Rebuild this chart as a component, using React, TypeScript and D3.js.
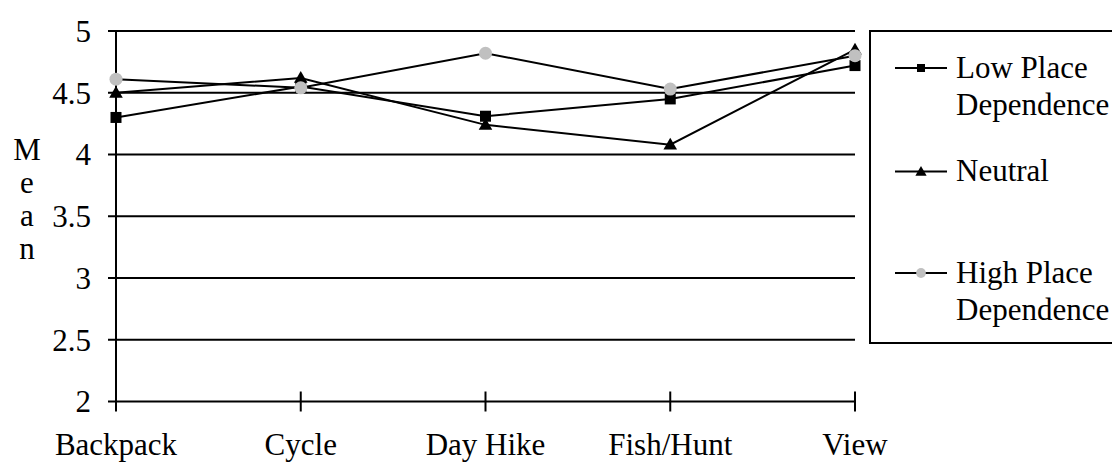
import React, { useEffect, useRef } from "react";
import * as d3 from "d3";

const categories = ["Backpack", "Cycle", "Day Hike", "Fish/Hunt", "View"];
const lowPlace = [4.3, 4.55, 4.31, 4.45, 4.72];
const neutral = [4.5, 4.62, 4.24, 4.08, 4.85];
const highPlace = [4.61, 4.54, 4.82, 4.53, 4.8];
const yTicks = [2, 2.5, 3, 3.5, 4, 4.5, 5];

const seriesList = [
  { name: ["Low Place", "Dependence"], values: lowPlace, marker: "square", color: "#000" },
  { name: ["Neutral"], values: neutral, marker: "triangle", color: "#000" },
  { name: ["High Place", "Dependence"], values: highPlace, marker: "circle", color: "#c0c0c0" },
];

const width = 1112;
const height = 462;

const App = () => {
  const svgRef = useRef(null);

  useEffect(() => {
    const svg = d3.select(svgRef.current);
    svg.selectAll("*").remove();
    svg.style("font-family", "Liberation Serif").style("font-size", "31px");

    const x = d3.scalePoint().domain(categories).range([116, 855]);
    const y = d3.scaleLinear().domain([2, 5]).range([401.5, 31]);

    // gridlines + y ticks
    svg.append("g")
      .selectAll("line")
      .data(yTicks)
      .join("line")
      .attr("x1", 108)
      .attr("x2", 855)
      .attr("y1", (d) => y(d))
      .attr("y2", (d) => y(d))
      .attr("stroke", "#000")
      .attr("stroke-width", 2);

    svg.append("g")
      .selectAll("text")
      .data(yTicks)
      .join("text")
      .attr("x", 91)
      .attr("y", (d) => y(d))
      .attr("dy", "0.35em")
      .attr("text-anchor", "end")
      .text((d) => d);

    // y axis line
    svg.append("line")
      .attr("x1", 116).attr("x2", 116)
      .attr("y1", y(5)).attr("y2", y(2) + 10)
      .attr("stroke", "#000").attr("stroke-width", 2);

    // x ticks
    svg.append("g")
      .selectAll("line")
      .data(categories.slice(1))
      .join("line")
      .attr("x1", (d) => x(d))
      .attr("x2", (d) => x(d))
      .attr("y1", y(2) - 10)
      .attr("y2", y(2) + 10)
      .attr("stroke", "#000")
      .attr("stroke-width", 2);

    svg.append("g")
      .selectAll("text")
      .data(categories)
      .join("text")
      .attr("x", (d) => x(d))
      .attr("y", 455)
      .attr("text-anchor", "middle")
      .text((d) => d);

    // y title, stacked letters
    svg.append("g")
      .selectAll("text")
      .data("Mean".split(""))
      .join("text")
      .attr("x", 27)
      .attr("y", (d, i) => 160 + i * 33)
      .attr("text-anchor", "middle")
      .text((d) => d);

    const markerPath = (type, big) => {
      if (type === "square") return d3.symbol(d3.symbolSquare, big ? 121 : 64)();
      if (type === "triangle") return d3.symbol(d3.symbolTriangle, big ? 80 : 55)();
      return d3.symbol(d3.symbolCircle, big ? 133 : 75)();
    };

    const line = d3.line()
      .x((d, i) => x(categories[i]))
      .y((d) => y(d));

    seriesList.forEach((s) => {
      svg.append("path")
        .datum(s.values)
        .attr("d", line)
        .attr("fill", "none")
        .attr("stroke", "#000")
        .attr("stroke-width", 2);
      svg.append("g")
        .selectAll("path")
        .data(s.values)
        .join("path")
        .attr("transform", (d, i) => `translate(${x(categories[i])},${y(d) + (s.marker === "triangle" ? 1 : 0)})`)
        .attr("d", markerPath(s.marker, true))
        .attr("fill", s.color);
    });

    // legend
    svg.append("rect")
      .attr("x", 870)
      .attr("y", 31)
      .attr("width", 300)
      .attr("height", 312)
      .attr("fill", "none")
      .attr("stroke", "#000")
      .attr("stroke-width", 2);

    const legendY = [68, 171.5, 273];
    seriesList.forEach((s, i) => {
      const g = svg.append("g").attr("transform", `translate(0,${legendY[i]})`);
      g.append("line")
        .attr("x1", 895).attr("x2", 947)
        .attr("y1", 0).attr("y2", 0)
        .attr("stroke", "#000").attr("stroke-width", 2);
      g.append("path")
        .attr("transform", `translate(921,${s.marker === "triangle" ? 1 : 0})`)
        .attr("d", markerPath(s.marker, false))
        .attr("fill", s.color);
      g.selectAll("text")
        .data(s.name)
        .join("text")
        .attr("x", 956)
        .attr("y", (d, j) => 9.5 + j * 37.5)
        .text((d) => d);
    });
  }, []);

  return (
    <svg
      ref={svgRef}
      width={width}
      height={height}
      style={{ position: "absolute", left: 0, top: 0, background: "#fff" }}
    ></svg>
  );
};

export default App;
